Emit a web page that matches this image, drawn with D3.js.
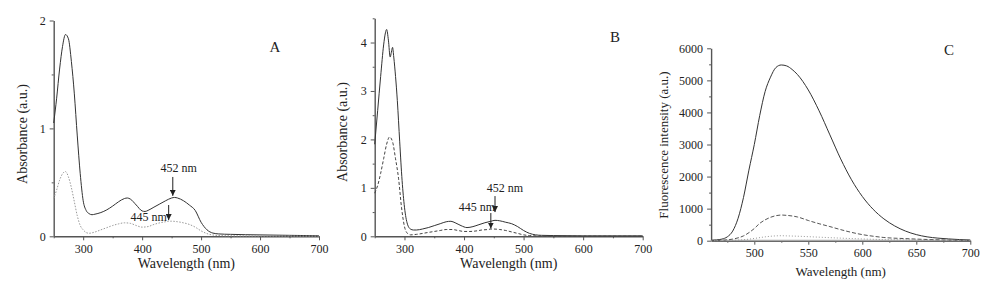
<!DOCTYPE html>
<html>
<head>
<meta charset="utf-8">
<script src="https://cdn.jsdelivr.net/npm/d3@7"></script>
<style>
	html, body { margin: 0; padding: 0; background: #fff; }
	svg { display: block; }
	svg text { font-family: "Liberation Serif", "Times New Roman", serif; }
	.domain, .tick line { stroke: #555; }
	.domain { stroke-width: 1.4; }
	.tick text { fill: #222; }
</style>
</head>
<body>
<svg id="chart" width="1000" height="283"></svg>
<script>
// Panel A: UV-vis absorbance
const aSolidNm = [250, 255, 260, 265, 270, 275, 280, 285, 290, 295, 300, 305, 310, 315, 320, 330, 340, 350, 360, 370, 375, 380, 390, 400, 405, 410, 420, 430, 440, 450, 455, 460, 470, 480, 490, 500, 510, 520, 530, 550, 600, 650, 700];
const aSolid = [1.05, 1.28, 1.55, 1.76, 1.87, 1.83, 1.62, 1.32, 0.93, 0.58, 0.33, 0.24, 0.21, 0.2, 0.205, 0.22, 0.245, 0.28, 0.32, 0.35, 0.355, 0.345, 0.29, 0.235, 0.23, 0.24, 0.27, 0.3, 0.33, 0.355, 0.36, 0.355, 0.33, 0.29, 0.24, 0.13, 0.06, 0.03, 0.022, 0.018, 0.013, 0.009, 0.005];
const aDottedNm = [250, 255, 260, 265, 270, 275, 280, 285, 290, 295, 300, 305, 310, 320, 330, 340, 350, 360, 370, 380, 390, 400, 410, 420, 430, 440, 445, 450, 460, 470, 480, 490, 500, 510, 520, 540, 600, 700];
const aDotted = [0.35, 0.43, 0.52, 0.58, 0.6, 0.55, 0.45, 0.32, 0.19, 0.1, 0.06, 0.035, 0.028, 0.04, 0.06, 0.08, 0.1, 0.115, 0.125, 0.12, 0.1, 0.085, 0.09, 0.11, 0.125, 0.135, 0.14, 0.14, 0.135, 0.125, 0.11, 0.085, 0.05, 0.025, 0.012, 0.005, 0.003, 0.002];

// Panel B: UV-vis absorbance
const bSolidNm = [250, 255, 260, 265, 268, 270, 273, 276, 278, 280, 282, 285, 288, 292, 296, 300, 305, 310, 315, 320, 330, 340, 350, 360, 370, 378, 385, 395, 405, 415, 425, 435, 445, 452, 460, 470, 480, 490, 500, 510, 520, 530, 550, 600, 700];
const bSolid = [1.9, 2.6, 3.3, 3.95, 4.2, 4.27, 4.05, 3.7, 3.8, 3.9, 3.7, 3.3, 2.8, 1.95, 1.15, 0.6, 0.25, 0.15, 0.13, 0.13, 0.15, 0.18, 0.22, 0.26, 0.3, 0.31, 0.28, 0.22, 0.18, 0.2, 0.24, 0.28, 0.31, 0.33, 0.32, 0.29, 0.26, 0.2, 0.12, 0.06, 0.03, 0.02, 0.015, 0.01, 0.01];
const bDashedNm = [250, 255, 260, 265, 270, 275, 280, 285, 290, 295, 300, 305, 310, 320, 340, 360, 370, 380, 390, 400, 410, 420, 430, 440, 445, 450, 460, 470, 480, 490, 500, 510, 520, 550, 600, 700];
const bDashed = [0.89, 1.05, 1.3, 1.6, 1.9, 2.05, 1.95, 1.6, 1.2, 0.6, 0.2, 0.06, 0.03, 0.04, 0.08, 0.12, 0.14, 0.14, 0.12, 0.1, 0.1, 0.11, 0.13, 0.14, 0.15, 0.15, 0.14, 0.12, 0.09, 0.06, 0.03, 0.015, 0.01, 0.005, 0.003, 0.002];

// Panel C: fluorescence emission
const cSolidNm = [460, 465, 470, 475, 480, 485, 490, 495, 500, 505, 510, 515, 520, 525, 530, 535, 540, 550, 560, 570, 580, 590, 600, 610, 620, 630, 640, 650, 660, 670, 680, 690, 700];
const cSolid = [15, 25, 50, 120, 300, 700, 1350, 2200, 3000, 3900, 4650, 5100, 5400, 5480, 5450, 5340, 5180, 4700, 4050, 3300, 2550, 1900, 1380, 980, 680, 460, 300, 190, 120, 80, 55, 35, 20];
const cDashedNm = [460, 470, 480, 490, 500, 505, 510, 515, 520, 525, 530, 540, 550, 560, 570, 580, 590, 600, 610, 620, 640, 660, 680, 700];
const cDashed = [5, 15, 50, 150, 380, 540, 650, 730, 780, 800, 790, 740, 630, 530, 440, 345, 260, 190, 140, 100, 65, 38, 20, 10];
const cDottedNm = [460, 480, 490, 500, 510, 520, 525, 530, 540, 560, 580, 600, 620, 650, 700];
const cDotted = [0, 10, 30, 70, 120, 150, 155, 150, 140, 110, 80, 55, 35, 20, 10];
const cBaseNm = [460, 700];
const cBase = [8, 8];

// tick values
const absXMajor = [300, 400, 500, 600, 700];
const absXMinor = [250, 350, 450, 550, 650];
const aYMajor = [0, 1, 2];
const aYMinor = [0.5, 1.5];
const bYMajor = [0, 1, 2, 3, 4];
const bYMinor = [0.5, 1.5, 2.5, 3.5, 4.5];
const cXMajor = [500, 550, 600, 650, 700];
const cXMinor = [475, 525, 575, 625, 675];
const cYMajor = [0, 1000, 2000, 3000, 4000, 5000, 6000];
const cYMinor = [500, 1500, 2500, 3500, 4500, 5500];

const svg = d3.select('#chart');

svg
	.append('defs')
	.append('marker')
	.attr('id', 'arrow')
	.attr('viewBox', '0 0 6 6')
	.attr('refX', 6)
	.attr('refY', 3)
	.attr('markerWidth', 6)
	.attr('markerHeight', 6)
	.attr('markerUnits', 'userSpaceOnUse')
	.attr('orient', 'auto')
	.append('path')
	.attr('d', 'M0,0 L6,3 L0,6 Z')
	.attr('fill', '#222');

function zip(nm, vals) {
	return nm.map((n, i) => ({ x: n, y: vals[i] }));
}

function drawPanel(p) {
	const x = d3.scaleLinear(p.xDomain, [p.left, p.right]);
	const y = d3.scaleLinear(p.yDomain, [p.bottom, p.top]);
	const fmt = d3.format('d');
	const g = svg.append('g');

	/** AXES ******************************************************************/
	g.append('g')
		.attr('transform', `translate(0, ${p.bottom})`)
		.call(d3.axisBottom(x).tickValues(p.xMinor).tickSize(2).tickFormat(''))
		.call((s) => s.select('.domain').remove());
	g.append('g')
		.attr('transform', `translate(0, ${p.bottom})`)
		.call(d3.axisBottom(x).tickValues(p.xMajor).tickFormat(fmt).tickSize(4).tickSizeOuter(0).tickPadding(4))
		.attr('font-family', null)
		.attr('font-size', p.tickFont);

	g.append('g')
		.attr('transform', `translate(${p.left}, 0)`)
		.call(d3.axisLeft(y).tickValues(p.yMinor).tickSize(2).tickFormat(''))
		.call((s) => s.select('.domain').remove());
	g.append('g')
		.attr('transform', `translate(${p.left}, 0)`)
		.call(d3.axisLeft(y).tickValues(p.yMajor).tickFormat(fmt).tickSize(4).tickSizeOuter(0).tickPadding(4))
		.attr('font-family', null)
		.attr('font-size', p.tickFont);

	/** LABELS ****************************************************************/
	g.append('text')
		.attr('x', (p.left + p.right) / 2)
		.attr('y', p.xLabelY)
		.attr('text-anchor', 'middle')
		.attr('font-size', p.xLabelFont)
		.attr('fill', '#222')
		.text('Wavelength (nm)');

	g.append('text')
		.attr('transform', `translate(${p.yLabelX}, ${p.yLabelCy}) rotate(-90)`)
		.attr('text-anchor', 'middle')
		.attr('font-size', p.yLabelFont)
		.attr('fill', '#222')
		.text(p.yLabel);

	g.append('text')
		.attr('x', p.letterX)
		.attr('y', p.letterY)
		.attr('text-anchor', 'middle')
		.attr('font-size', 15)
		.attr('fill', '#222')
		.text(p.letter);

	/** DATA ******************************************************************/
	const line = d3
		.line()
		.x((d) => x(d.x))
		.y((d) => y(d.y))
		.curve(d3.curveMonotoneX);

	p.series.forEach((s) => {
		g.append('path')
			.attr('fill', 'none')
			.attr('stroke', s.color)
			.attr('stroke-width', s.width || 1)
			.attr('stroke-dasharray', s.dash || null)
			.attr('d', line(zip(s.nm, s.values)));
	});

	/** ANNOTATIONS ***********************************************************/
	(p.notes || []).forEach((n) => {
		g.append('line')
			.attr('x1', x(n.at))
			.attr('x2', x(n.at))
			.attr('y1', y(n.from))
			.attr('y2', y(n.to))
			.attr('stroke', '#222')
			.attr('stroke-width', 1)
			.attr('marker-end', 'url(#arrow)');
		g.append('text')
			.attr('x', x(n.at) + n.dx)
			.attr('y', y(n.ty))
			.attr('text-anchor', 'middle')
			.attr('font-size', 12)
			.attr('fill', '#222')
			.text(`${n.at} nm`);
	});
}

drawPanel({
	left: 53.7, right: 319, top: 20.5, bottom: 236.3,
	xDomain: [250, 700], yDomain: [0, 2],
	xMajor: absXMajor, xMinor: absXMinor, yMajor: aYMajor, yMinor: aYMinor,
	tickFont: 12, xLabelFont: 14, xLabelY: 268, yLabelFont: 14,
	yLabel: 'Absorbance (a.u.)', yLabelX: 27, yLabelCy: 134,
	letter: 'A', letterX: 275, letterY: 52,
	series: [
		{ nm: aSolidNm, values: aSolid, color: '#333' },
		{ nm: aDottedNm, values: aDotted, color: '#999', dash: '1.5,1.5' }
	],
	notes: [
		{ at: 452, from: 0.55, to: 0.375, ty: 0.596, dx: 6 },
		{ at: 445, from: 0.29, to: 0.15, ty: 0.142, dx: -20 }
	]
});

drawPanel({
	left: 374.7, right: 642.7, top: 18.3, bottom: 236.3,
	xDomain: [250, 700], yDomain: [0, 4.5],
	xMajor: absXMajor, xMinor: absXMinor, yMajor: bYMajor, yMinor: bYMinor,
	tickFont: 12, xLabelFont: 14, xLabelY: 268, yLabelFont: 14,
	yLabel: 'Absorbance (a.u.)', yLabelX: 347, yLabelCy: 132,
	letter: 'B', letterX: 615, letterY: 42,
	series: [
		{ nm: bSolidNm, values: bSolid, color: '#333' },
		{ nm: bDashedNm, values: bDashed, color: '#444', dash: '3,2' }
	],
	notes: [
		{ at: 452, from: 0.83, to: 0.5, ty: 0.915, dx: 10 },
		{ at: 445, from: 0.48, to: 0.16, ty: 0.52, dx: -14 }
	]
});

drawPanel({
	left: 711.1, right: 970.3, top: 48.3, bottom: 240.7,
	xDomain: [460, 700], yDomain: [0, 6000],
	xMajor: cXMajor, xMinor: cXMinor, yMajor: cYMajor, yMinor: cYMinor,
	tickFont: 12, xLabelFont: 13, xLabelY: 276, yLabelFont: 13,
	yLabel: 'Fluorescence intensity (a.u.)', yLabelX: 668, yLabelCy: 145,
	letter: 'C', letterX: 949, letterY: 55,
	series: [
		{ nm: cBaseNm, values: cBase, color: '#aaa', width: 1.5 },
		{ nm: cSolidNm, values: cSolid, color: '#333' },
		{ nm: cDashedNm, values: cDashed, color: '#555', dash: '4,2' },
		{ nm: cDottedNm, values: cDotted, color: '#999', dash: '1,2' }
	]
});
</script>
</body>
</html>
